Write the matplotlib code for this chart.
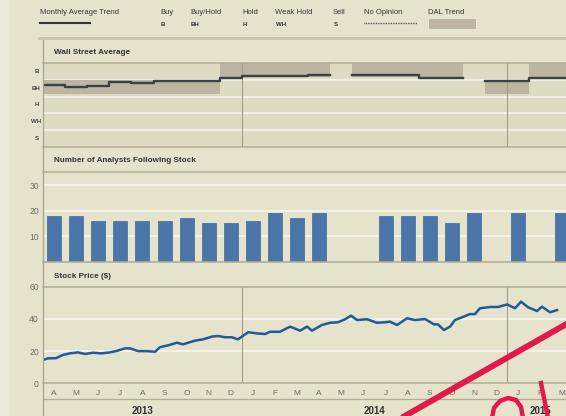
import numpy as np
import matplotlib
matplotlib.use('Agg')
import matplotlib.pyplot as plt
from matplotlib.lines import Line2D
from matplotlib.patches import Rectangle

# Data (months counted from April 2013)
month_labels = ['A', 'M', 'J', 'J', 'A', 'S', 'O', 'N', 'D', 'J', 'F', 'M',
                'A', 'M', 'J', 'J', 'A', 'S', 'O', 'N', 'D', 'J', 'F', 'M']
years = ['2013', '2014', '2015']
year_starts = [0, 9, 21]
year_ends = [9, 21, 24]
rating_labels = ['S', 'WH', 'H', 'BH', 'B']
rating_values = [1, 2, 3, 4, 5]

nan = np.nan
monthly_avg = [4.18, 4.08, 4.14, 4.34, 4.28, 4.44, 4.44, 4.44, 4.62, 4.72, 4.72, 4.72,
               4.78, nan, 4.78, 4.78, 4.78, 4.58, 4.58, nan, 4.44, 4.44, 4.62, 4.62]
dal_trend = [4, 4, 4, 4, 4, 4, 4, 4, 5, 5, 5, 5,
             5, nan, 5, 5, 5, 5, 5, nan, 4, 4, 5, 5]
analysts = [18, 18, 16, 16, 16, 16, 17, 15, 15, 16, 19, 17,
            19, nan, nan, 18, 18, 18, 15, 19, nan, 19, nan, 19]

price_month = [0.00, 0.23, 0.59, 0.90, 1.22, 1.58, 1.90, 2.26, 2.62, 3.03, 3.30, 3.71,
               3.94, 4.30, 4.66, 5.07, 5.29, 5.66, 6.06, 6.33, 6.88, 7.24, 7.65, 7.92,
               8.24, 8.55, 8.82, 9.28, 9.68, 10.05, 10.27, 10.72, 11.18, 11.63, 11.95, 12.17,
               12.62, 12.99, 13.35, 13.67, 13.94, 14.21, 14.66, 15.11, 15.48, 15.70, 16.02, 16.47,
               16.83, 17.29, 17.69, 17.87, 18.14, 18.42, 18.64, 18.96, 19.32, 19.55, 19.77, 20.23,
               20.59, 21.00, 21.36, 21.63, 21.95, 22.35, 22.58, 22.94, 23.26]
price = [14.5, 15.5, 15.6, 17.6, 18.6, 19.2, 18.2, 19.0, 18.6, 19.2, 20.0, 21.7,
         21.7, 20.0, 20.0, 19.6, 22.4, 23.6, 25.2, 24.2, 26.5, 27.3, 29.0, 29.4,
         28.6, 28.6, 27.3, 31.7, 31.0, 30.6, 32.0, 32.0, 35.2, 32.7, 35.2, 32.7,
         36.2, 37.6, 37.9, 39.8, 42.0, 39.3, 39.8, 37.6, 37.9, 38.3, 36.2, 40.4,
         39.3, 39.9, 36.6, 36.6, 33.1, 35.2, 39.3, 41.0, 43.0, 43.0, 46.6, 47.4,
         47.4, 49.0, 46.6, 50.7, 47.2, 44.9, 47.6, 44.1, 45.5]

# Style
BG = '#e6e3cd'
ROW_BG = '#dfdbc3'
FRAME = '#b1ab94'
GRID = '#f7f5ec'
SHADE = '#bbb5a2'
TEXT = '#333333'
TICK = '#6e6c64'
FONT = 'Liberation Sans'

W, H = 566, 416
X0 = 43
MONTH_PX = 22.1
x_max = (W - X0) / MONTH_PX


def fx(x):
    return x / W


def fy(y):
    return 1 - y / H


def fig_line(fig, xs, ys, color, lw, **kw):
    fig.add_artist(Line2D([fx(v) for v in xs], [fy(v) for v in ys], color=color, lw=lw, **kw))


def make_axes(fig, top, bottom):
    ax = fig.add_axes([fx(X0), fy(bottom), 1 - fx(X0), (bottom - top) / H])
    ax.set_xlim(0, x_max)
    for side in ['left', 'right']:
        ax.spines[side].set_visible(False)
    for side in ['top', 'bottom']:
        ax.spines[side].set_color(FRAME)
        ax.spines[side].set_linewidth(1.1)
    ax.set_xticks([])
    ax.tick_params(axis='y', length=0, pad=3, labelsize=6.2, labelcolor=TICK)
    return ax


def main():
    plt.rcParams['font.family'] = [FONT, 'DejaVu Sans']
    fig = plt.figure(figsize=(W / 100, H / 100), dpi=100, facecolor=BG)
    fig.add_artist(Rectangle((0, 0), fx(10), 1, color='#ecead9', lw=0))
    fig.add_artist(Rectangle((fx(38), fy(40)), 1, 2.5 / H, color='#cbc7b0', lw=0))

    # Legend row
    fig.text(fx(40), fy(12.5), 'Monthly Average Trend', fontsize=5.5, color=TEXT, va='center')
    fig_line(fig, [40, 90], [22.7, 22.7], '#333333', 1.5)
    legend_items = [('Buy', 'B', 160), ('Buy/Hold', 'BH', 190), ('Hold', 'H', 242),
                    ('Weak Hold', 'WH', 275), ('Sell', 'S', 333)]
    for name, code, x in legend_items:
        fig.text(fx(x), fy(12.5), name, fontsize=5.5, color=TEXT, va='center')
        fig.text(fx(x + 1), fy(24), code, fontsize=4.4, color=TEXT, va='center', weight='bold')
    fig.text(fx(364), fy(12.5), 'No Opinion', fontsize=5.5, color=TEXT, va='center')
    fig_line(fig, [364, 417], [22.7, 22.7], '#444444', 1.0, ls=(0, (0.6, 0.6)))
    fig.text(fx(428), fy(12.5), 'DAL Trend', fontsize=5.5, color=TEXT, va='center')
    fig.add_artist(Rectangle((fx(428), fy(28.5)), 48 / W, 10 / H, facecolor=SHADE,
                             edgecolor='#eeece0', lw=0.6))

    # Panel headers
    fig.text(fx(54), fy(52), 'Wall Street Average', fontsize=5.9, weight='bold', color=TEXT, va='center')
    fig.text(fx(54), fy(160), 'Number of Analysts Following Stock', fontsize=5.9, weight='bold',
             color=TEXT, va='center')
    fig.text(fx(54), fy(276), 'Stock Price ($)', fontsize=5.9, weight='bold', color=TEXT, va='center')

    centers = np.arange(len(month_labels)) + 0.5
    edges = np.arange(len(month_labels) + 1)

    # Wall Street Average
    ax1 = make_axes(fig, 63, 147)
    ax1.set_facecolor(ROW_BG)
    ax1.set_ylim(0.5, 5.5)
    ax1.set_yticks([])
    for v in [1.5, 2.5, 3.5, 4.5]:
        ax1.axhline(v, color=GRID, lw=1.2, zorder=1)
    dal = np.array(dal_trend, dtype=float)
    ok = ~np.isnan(dal)
    ax1.bar(centers[ok], 0.85, bottom=dal[ok] - 0.35, width=1.0, color=SHADE, lw=0, zorder=2)
    avg = np.array(monthly_avg, dtype=float)
    ax1.step(edges, np.append(avg, avg[-1]), where='post', color='#3b4242', lw=1.7, zorder=4)
    for lab, v in zip(rating_labels, rating_values):
        ax1.text(-6.5 / MONTH_PX, v, lab, fontsize=4.4, weight='bold', color='#444444',
                 ha='center', va='center', clip_on=False)
    for ys in year_starts[1:]:
        ax1.axvline(ys, color='#a39d88', lw=0.8, zorder=3)

    # Number of analysts
    ax2 = make_axes(fig, 171.7, 261.7)
    ax2.set_facecolor(BG)
    ax2.set_ylim(0, 35.3)
    ax2.set_yticks([10, 20, 30])
    for v in [10, 20, 30]:
        ax2.axhline(v, color=GRID, lw=1.2, zorder=1)
    ax2.bar(centers, analysts, width=0.63, color='#4a76aa', edgecolor='#3c6699', lw=0.5, zorder=2)

    # Stock price
    ax3 = make_axes(fig, 286.7, 383.3)
    ax3.set_facecolor(BG)
    ax3.set_ylim(0, 60)
    ax3.set_yticks([0, 20, 40, 60])
    for v in [20, 40]:
        ax3.axhline(v, color=GRID, lw=1.2, zorder=1)
    for ys in year_starts[1:]:
        ax3.axvline(ys, color='#a39d88', lw=0.8, zorder=2)
    ax3.plot(price_month, price, color='#1f5a9a', lw=1.8, zorder=3)
    ax3.set_xticks(centers)
    ax3.set_xticklabels(month_labels)
    ax3.tick_params(axis='x', length=0, pad=4.5, labelsize=6.0, labelcolor=TICK)
    for name, s, e in zip(years, year_starts, year_ends):
        ax3.text((s + e) / 2, -(410.7 - 383.3) / 96.6, name, transform=ax3.get_xaxis_transform(),
                 fontsize=7, weight='bold', color=TEXT, ha='center', va='center', clip_on=False)

    # Frame lines
    fig_line(fig, [X0, X0], [40, 416], '#aaa48e', 0.9)
    fig_line(fig, [X0, W], [399, 399], FRAME, 0.9)

    # Red hand-drawn mark
    red = '#e2194b'
    fig_line(fig, [396, 570], [421, 322], red, 4.3, solid_capstyle='round')
    fig_line(fig, [492, 494, 500, 508, 516, 521, 523], [418, 408, 401, 398, 400, 407, 418], red, 3.2)
    fig_line(fig, [541, 548], [383, 418], red, 3.2)

    plt.savefig('out.png', dpi=100, facecolor=BG)


if __name__ == '__main__':
    main()
